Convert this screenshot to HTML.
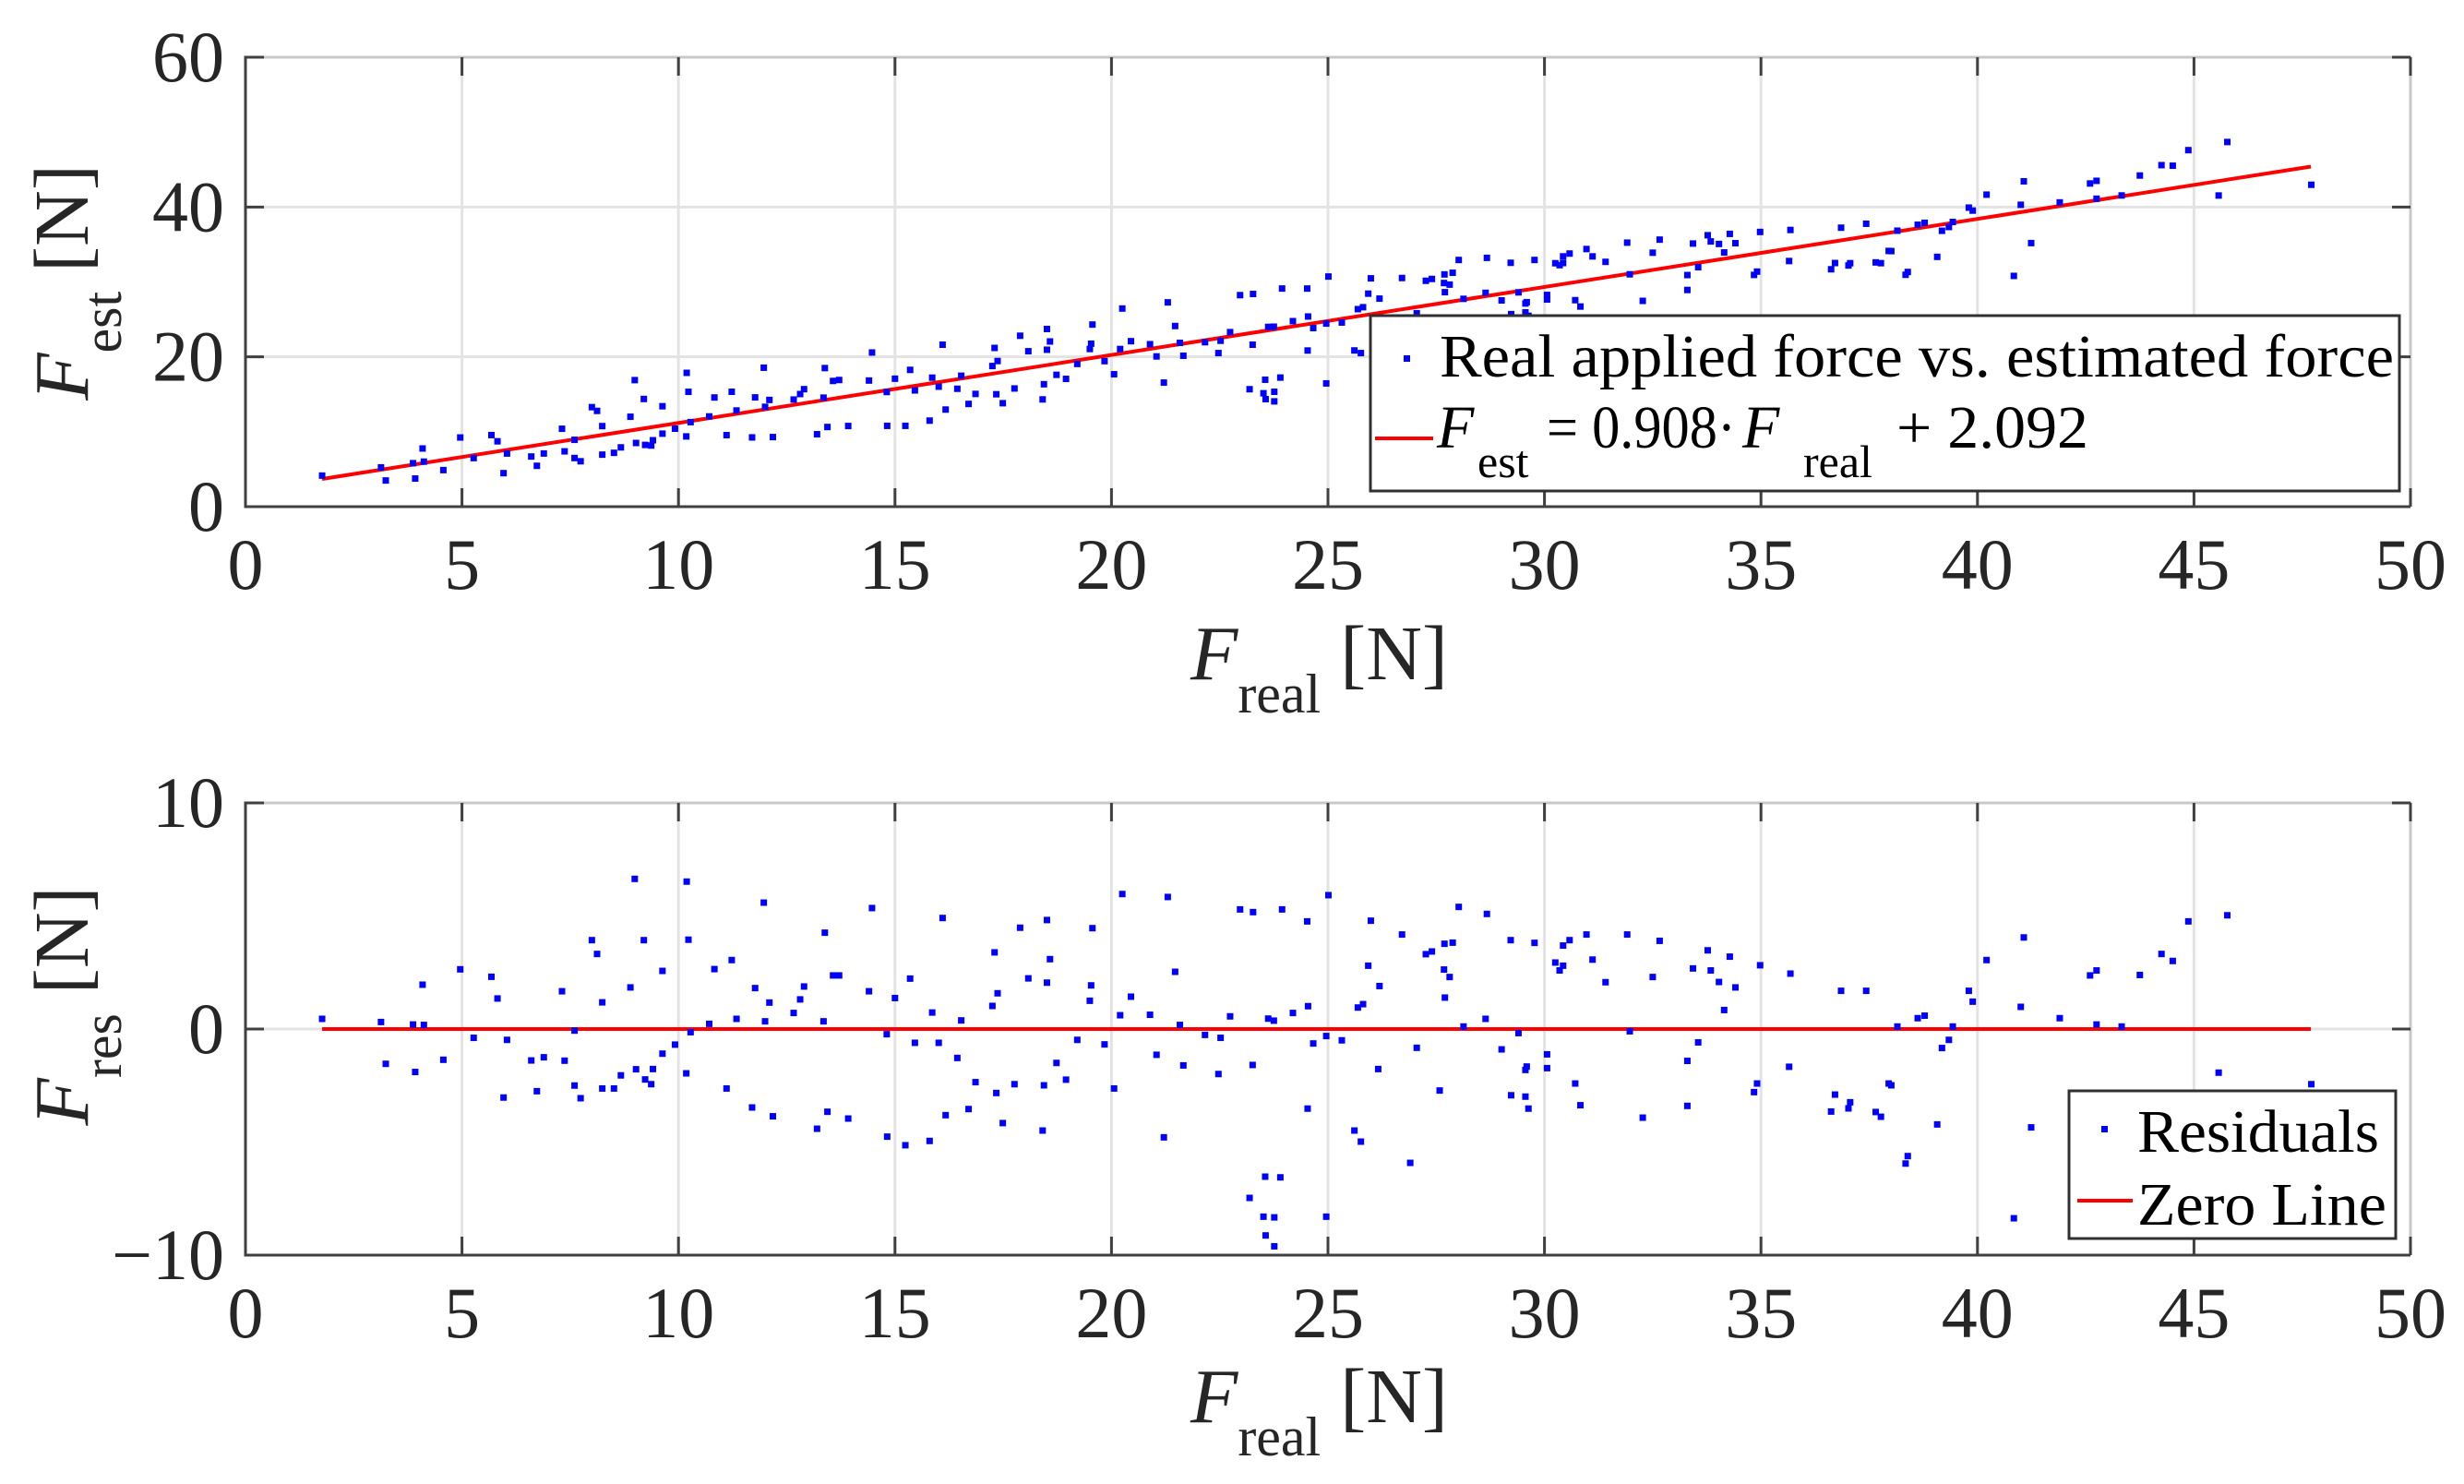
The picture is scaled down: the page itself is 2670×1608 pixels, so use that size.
<!DOCTYPE html>
<html><head><meta charset="utf-8"><style>
html,body{margin:0;padding:0;background:#fff}
svg{display:block;font-family:"Liberation Serif",serif}
</style></head><body>
<svg id="fig" width="2670" height="1608" viewBox="0 0 2670 1608">
<g id="top"></g>
<g id="bot"></g>
</svg>
<script>
const realF = [1.77,3.13,3.24,3.87,4.12,3.92,4.09,4.57,4.96,5.27,5.68,5.82,6.04,5.96,6.60,6.89,6.73,7.31,7.37,7.60,7.60,7.74,8.0,8.12,8.24,8.24,8.51,8.67,8.89,8.99,9.02,9.20,9.23,9.37,9.41,9.63,9.63,9.92,10.19,10.23,10.18,10.28,10.71,10.83,11.11,11.23,11.34,11.70,11.77,11.97,12.0,12.10,12.18,12.66,12.81,12.90,13.20,13.35,13.38,13.44,13.57,13.71,13.92,14.40,14.47,14.81,14.82,15.0,15.24,15.35,15.46,15.80,15.86,16.01,16.10,16.17,16.44,16.53,16.70,16.86,
17.25,17.30,17.37,17.34,17.49,17.76,17.89,18.08,18.41,18.44,18.51,18.51,18.58,18.73,18.95,19.21,19.50,19.53,19.56,19.84,20.06,20.20,20.25,20.45,20.89,21.04,21.21,21.30,21.47,21.58,21.66,22.16,22.47,22.52,22.74,22.97,23.19,23.26,23.27,23.51,23.55,23.56,23.62,23.75,23.76,23.76,23.90,23.94,24.19,24.52,24.53,24.54,24.66,24.96,24.96,25.01,25.32,25.61,25.69,25.76,25.81,25.93,25.99,26.16,26.19,26.71,26.90,27.05,27.26,27.40,27.58,27.68,27.69,27.70,27.81,27.88,28.02,28.13,28.64,28.67,29.01,29.22,29.23,29.40,29.56,29.59,29.56,29.63,29.77,30.06,30.06,30.25,30.35,30.43,30.43,30.58,30.71,30.83,30.97,31.11,31.41,31.91,31.97,32.27,32.50,32.66,33.30,33.30,33.43,33.55,
33.77,33.84,34.03,34.15,34.28,34.41,34.84,34.91,34.98,35.65,35.68,36.62,36.71,36.85,37.02,37.06,37.43,37.65,37.77,37.95,38.01,38.15,38.34,38.39,38.62,38.78,39.07,39.18,39.34,39.43,39.80,39.89,40.21,40.84,41.0,41.07,41.24,41.90,42.60,42.75,42.75,43.33,43.75,44.25,44.51,44.87,45.57,45.77,47.71];
const resF = [0.45,0.31,-1.54,0.20,0.18,-1.90,1.96,-1.36,2.64,-0.39,2.31,1.35,-0.48,-3.03,-1.39,-1.25,-2.75,1.67,-1.40,-0.07,-2.50,-3.06,3.93,3.32,1.18,-2.63,-2.63,-2.05,1.84,6.64,-1.78,3.93,-2.23,-2.44,-1.77,2.57,-1.09,-0.69,6.52,3.95,-1.96,-0.14,0.23,2.65,-2.63,3.05,0.45,-3.47,1.81,5.59,0.34,1.17,-3.86,0.71,1.31,1.88,-4.41,0.34,4.26,-3.66,2.37,2.37,-3.96,1.67,5.35,-0.23,-4.76,1.37,-5.14,2.23,-0.61,-4.95,0.73,-0.61,4.91,-3.81,-1.28,0.38,-3.54,-2.35,
1.02,3.39,1.58,-2.83,-4.16,-2.44,4.48,2.24,-4.49,-2.49,4.82,2.05,3.09,-1.50,-2.24,-0.48,1.25,1.93,4.46,-0.68,-2.63,0.61,5.97,1.43,0.63,-1.14,-4.79,5.84,2.53,0.18,-1.61,-0.26,-1.99,-0.39,0.56,5.29,-7.47,-1.59,5.17,-8.30,-6.53,-9.13,0.46,0.37,-8.33,-9.61,-6.56,5.29,0.71,4.76,-3.52,1.01,-0.64,-0.31,-8.30,5.92,-0.50,-4.49,0.95,-4.98,1.10,2.80,4.79,-1.77,1.90,4.18,-5.92,-0.83,3.31,3.43,-2.72,2.63,3.77,1.39,2.30,3.82,5.40,0.11,0.45,5.09,-0.90,3.93,-2.93,-0.18,-1.81,-1.66,-2.99,-3.52,3.81,-1.12,-1.73,2.94,2.59,2.80,3.69,3.93,-2.41,-3.37,4.18,3.07,2.07,4.18,-0.10,-3.92,2.30,3.90,-1.41,-3.40,2.68,-0.59,
3.48,2.59,2.08,0.84,3.20,1.84,-2.79,-2.41,2.82,-1.67,2.45,-3.65,-2.90,1.69,-3.51,-3.24,1.69,-3.67,-3.88,-2.41,-2.49,0.11,-5.95,-5.62,0.48,0.59,-4.22,-0.84,-0.48,0.11,1.69,1.21,3.05,-8.37,0.98,4.05,-4.35,0.48,2.37,2.59,0.20,0.11,2.39,3.32,3.01,4.76,-1.93,5.03,-2.44];
const fitSlope = 0.908;
const fitIntercept = 2.092;
const fitRange = [1.77, 47.7];
const xTicks = [0,5,10,15,20,25,30,35,40,45,50];
const yTicksTop = [0,20,40,60];
const yTicksBot = [-10,0,10];
const yTickLabelsBot = ["\u221210","0","10"];

const NS = "http://www.w3.org/2000/svg";
function mk(parent, tag, attrs, text){
  const e = document.createElementNS(NS, tag);
  for (const k in attrs) e.setAttribute(k, attrs[k]);
  if (text !== undefined) e.textContent = text;
  parent.appendChild(e); return e;
}
const L = 266, R = 2612;
function xs(v){ return L + (v - 0) / 50 * (R - L); }

function axes(g, top, bottom, ymin, ymax, yticks, ylabels, tickY, prefix){
  const ys = v => bottom - (v - ymin) / (ymax - ymin) * (bottom - top);
  xTicks.forEach(t => {
    const l = mk(g, 'line', {x1:xs(t), x2:xs(t), y1:top, y2:bottom, stroke:'#e3e3e3', 'stroke-width':3});
    
    
  });
  yticks.forEach(t => {
    const l = mk(g, 'line', {x1:L, x2:R, y1:ys(t), y2:ys(t), stroke:'#e3e3e3', 'stroke-width':3});
    
    
  });
  const fr = mk(g, 'path', {d:`M${L},${top}H${R}V${bottom}`, fill:'none', stroke:'#c8c8c8', 'stroke-width':3});
  
  
  const ax = mk(g, 'path', {d:`M${R},${bottom}H${L}V${top}H${L+1}`, fill:'none', stroke:'#404040', 'stroke-width':3});
  
  
  xTicks.forEach(t => {
    const tk = mk(g, 'path', {d:`M${xs(t)},${bottom}v-20M${xs(t)},${top}v20`, stroke:'#404040', 'stroke-width':3});
    
    
    const tx = mk(g, 'text', {x:xs(t), y:tickY, 'font-size':78, 'text-anchor':'middle', fill:'#262626'}, String(t));
    
    
  });
  yticks.forEach((t, i) => {
    const tk = mk(g, 'path', {d:`M${L},${ys(t)}h20M${R},${ys(t)}h-20`, stroke:'#404040', 'stroke-width':3});
    
    
    const tx = mk(g, 'text', {x:243, y:ys(t) + 26, 'font-size':78, 'text-anchor':'end', fill:'#262626'}, ylabels[i]);
    
    
  });
  return ys;
}

function xLabel(g, baseline, prefix){
  const t = mk(g, 'text', {x:1290, y:baseline, 'font-size':84, fill:'#262626'});
  
  
  mk(t, 'tspan', {'font-style':'italic'}, 'F');
  mk(t, 'tspan', {'font-size':60, dy:36}, 'real');
  mk(t, 'tspan', {dy:-36}, ' [N]');
}
function yLabel(g, cx, cy, sub, prefix){
  const t = mk(g, 'text', {x:0, y:0, 'font-size':84, fill:'#262626', 'text-anchor':'middle', transform:`translate(${cx},${cy}) rotate(-90)`});
  
  
  mk(t, 'tspan', {'font-style':'italic'}, 'F');
  mk(t, 'tspan', {'font-size':60, dy:36}, sub);
  mk(t, 'tspan', {dy:-36}, ' [N]');
}

// ---------- TOP PLOT ----------
const gt = document.getElementById('top');
const ysT = axes(gt, 62, 549, 0, 60, yTicksTop, yTicksTop.map(String), 638, 'top');
const fitL = mk(gt, 'line', {x1:xs(fitRange[0]), y1:ysT(fitSlope*fitRange[0]+fitIntercept), x2:xs(fitRange[1]), y2:ysT(fitSlope*fitRange[1]+fitIntercept), stroke:'#ff0000', 'stroke-width':4});


const ptsT = mk(gt, 'g', {fill:'#0000ff'});


realF.forEach((x, i) => {
  const est = fitSlope * x + fitIntercept + resF[i];
  const r = mk(ptsT, 'rect', {x:xs(x)-3.5, y:ysT(est)-3.5, width:7, height:7});
  
  
});
xLabel(gt, 736, 'top');
yLabel(gt, 95, 306, 'est', 'top');
const lgT = mk(gt, 'g', {});


mk(lgT, 'rect', {x:1485, y:342, width:1115, height:190, fill:'#fff', stroke:'#303030', 'stroke-width':3});
mk(lgT, 'rect', {x:1521, y:385, width:7, height:7, fill:'#0000ff'});
mk(lgT, 'text', {x:1560, y:408, 'font-size':66, textLength:1034, lengthAdjust:'spacingAndGlyphs', fill:'#000'}, 'Real applied force vs. estimated force');
mk(lgT, 'line', {x1:1490, x2:1553, y1:475, y2:475, stroke:'#ff0000', 'stroke-width':4});
mk(lgT, 'text', {x:1557, y:485, 'font-size':66, 'font-style':'italic', fill:'#000'}, 'F');
mk(lgT, 'text', {x:1601, y:517, 'font-size':50, fill:'#000'}, 'est');
mk(lgT, 'text', {x:1676, y:485, 'font-size':66, textLength:205, lengthAdjust:'spacingAndGlyphs', fill:'#000'}, '= 0.908\u00b7');
mk(lgT, 'text', {x:1888, y:485, 'font-size':66, 'font-style':'italic', fill:'#000'}, 'F');
mk(lgT, 'text', {x:1954, y:517, 'font-size':50, fill:'#000'}, 'real');
mk(lgT, 'text', {x:2055, y:485, 'font-size':66, textLength:208, lengthAdjust:'spacingAndGlyphs', fill:'#000'}, '+ 2.092');

// ---------- BOTTOM PLOT ----------
const gb = document.getElementById('bot');
const ysB = axes(gb, 870, 1360, -10, 10, yTicksBot, yTickLabelsBot, 1449, 'bottom');
const zl = mk(gb, 'line', {x1:xs(fitRange[0]), x2:xs(fitRange[1]), y1:ysB(0), y2:ysB(0), stroke:'#ff0000', 'stroke-width':4});


const ptsB = mk(gb, 'g', {fill:'#0000ff'});


realF.forEach((x, i) => {
  const r = mk(ptsB, 'rect', {x:xs(x)-3.5, y:ysB(resF[i])-3.5, width:7, height:7});
  
  
});
xLabel(gb, 1541, 'bottom');
yLabel(gb, 95, 1090, 'res', 'bottom');
const lgB = mk(gb, 'g', {});


mk(lgB, 'rect', {x:2242, y:1182, width:354, height:160, fill:'#fff', stroke:'#303030', 'stroke-width':3});
mk(lgB, 'rect', {x:2277, y:1220, width:7, height:7, fill:'#0000ff'});
mk(lgB, 'text', {x:2316, y:1248, 'font-size':66, textLength:262, lengthAdjust:'spacingAndGlyphs', fill:'#000'}, 'Residuals');
mk(lgB, 'line', {x1:2251, x2:2311, y1:1301, y2:1301, stroke:'#ff0000', 'stroke-width':4});
mk(lgB, 'text', {x:2316, y:1327, 'font-size':66, textLength:270, lengthAdjust:'spacingAndGlyphs', fill:'#000'}, 'Zero Line');
</script>
</body></html>
